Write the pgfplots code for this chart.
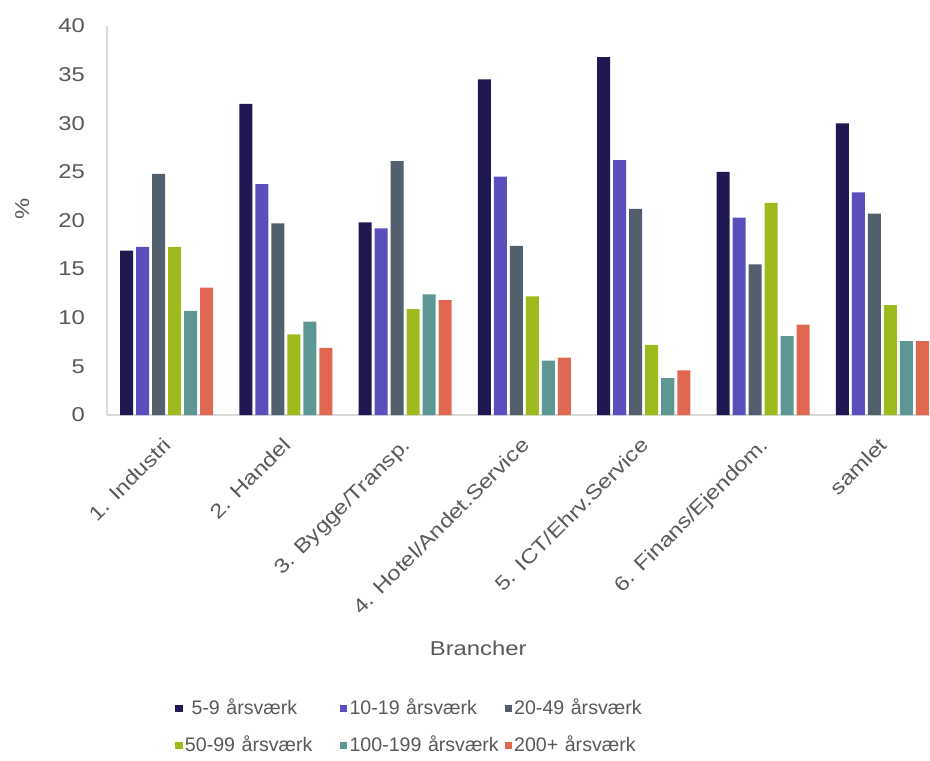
\documentclass[border=0pt]{standalone}
\usepackage{pgfplots}
\pgfplotsset{compat=1.18}
\usepackage{fontspec}
\setmainfont{Liberation Sans}
\newfontfamily\tickf[FakeStretch=1.19]{Liberation Sans}
\newfontfamily\legf{Liberation Sans}
\definecolor{txt}{HTML}{595959}
\definecolor{cA}{HTML}{201850}
\definecolor{cB}{HTML}{5B4FBE}
\definecolor{cC}{HTML}{52606D}
\definecolor{cD}{HTML}{9FBA1C}
\definecolor{cE}{HTML}{5E9693}
\definecolor{cF}{HTML}{E06852}
\definecolor{axl}{HTML}{D9D9D9}
\begin{document}
\begin{tikzpicture}
\useasboundingbox (0,0) rectangle (465pt,380pt);
\begin{axis}[
  at={(53.5pt,172.5pt)}, anchor=south west,
  scale only axis, width=411.5pt, height=194.5pt,
  ybar=1.5pt, bar width=6.5pt,
  xmin=-0.5, xmax=6.4, ymin=0, ymax=40,
  ytick={0,5,...,40},
  xtick={0,...,6},
  xticklabels={1. Industri,2. Handel,3. Bygge/Transp.,4. Hotel/Andet.Service,5. ICT/Ehrv.Service,6. Finans/Ejendom.,samlet},
  major tick length=0pt,
  axis x line*=bottom, axis y line*=left,
  axis line style={draw=axl, line width=0.8pt},
  tick label style={font=\tickf\fontsize{10}{12}\selectfont, text=txt},
  /pgf/number format/assume math mode=true,
  yticklabel style={xshift=-7.5pt},
  xticklabel style={rotate=45, anchor=north east, xshift=-5.5pt, yshift=-2.5pt},
  ylabel={\%}, xlabel={Brancher},
  label style={font=\tickf\fontsize{10}{12}\selectfont, text=txt},
  ylabel style={at={(axis description cs:-0.103,0.53)}, anchor=center},
  xlabel style={at={(axis description cs:0.451,0)}, yshift=-116.5pt, anchor=center},
  legend columns=3,
  legend style={at={(axis description cs:0.0826,-0.802)}, anchor=west, draw=none,
    inner sep=0pt,
    font=\legf\fontsize{9.8}{11.5}\selectfont, text=txt,
    nodes={inner xsep=1.2pt, text width=76.3pt, align=left},
    /tikz/every even column/.append style={column sep=0pt},
    /tikz/every odd column/.append style={column sep=0pt},
    row sep=5pt},
  legend cell align=left,
  legend image code/.code={\fill[#1] (0pt,-1.8pt) rectangle (3.6pt,1.8pt);},
]
\addplot[fill=cA, draw=none] coordinates {(0,16.9) (1,32.0) (2,19.8) (3,34.5) (4,36.8) (5,25.0) (6,30.0)};
\addplot[fill=cB, draw=none] coordinates {(0,17.3) (1,23.75) (2,19.2) (3,24.5) (4,26.2) (5,20.3) (6,22.9)};
\addplot[fill=cC, draw=none] coordinates {(0,24.8) (1,19.7) (2,26.1) (3,17.4) (4,21.2) (5,15.5) (6,20.7)};
\addplot[fill=cD, draw=none] coordinates {(0,17.3) (1,8.3) (2,10.9) (3,12.2) (4,7.2) (5,21.8) (6,11.3)};
\addplot[fill=cE, draw=none] coordinates {(0,10.7) (1,9.6) (2,12.4) (3,5.6) (4,3.8) (5,8.1) (6,7.6)};
\addplot[fill=cF, draw=none] coordinates {(0,13.1) (1,6.9) (2,11.8) (3,5.9) (4,4.6) (5,9.3) (6,7.6)};
\legend{\ 5-9 årsværk,10-19 årsværk,20-49 årsværk,50-99 årsværk,100-199 årsværk,200+ årsværk}
\end{axis}
\end{tikzpicture}
\end{document}
